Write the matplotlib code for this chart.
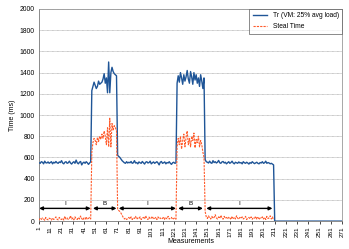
import numpy as np
import matplotlib
matplotlib.use('Agg')
import matplotlib.pyplot as plt

plt.rcParams['font.family'] = ['Liberation Sans', 'DejaVu Sans']

# Tr (ms) by phase
tr_idle1 = [550, 545, 560, 555, 540, 565, 550, 548, 558, 545,
            552, 560, 540, 555, 548, 562, 550, 545, 558, 552,
            570, 548, 540, 555, 560, 545, 550, 565, 548, 538,
            552, 560, 545, 575, 550, 540, 555, 562, 530, 548,
            556, 545, 560, 550, 535, 548, 560]
tr_burst1 = [1230, 1270, 1310, 1280, 1250, 1270, 1320, 1290, 1300, 1310,
             1340, 1390, 1300, 1350, 1210, 1500, 1210, 1400, 1450, 1410,
             1390, 1380, 1370]
tr_idle2 = [620, 610, 600, 585, 570, 560, 550, 545, 560, 548,
            555, 550, 562, 545, 550, 570, 548, 552, 540, 558,
            550, 545, 562, 550, 538, 555, 560, 548, 552, 565,
            540, 550, 558, 545, 552, 560, 548, 530, 555, 562,
            545, 550, 558, 540, 552, 548, 560, 545, 535, 550,
            555, 545, 548]
tr_burst2 = [1300, 1370, 1310, 1400, 1350, 1290, 1380, 1320, 1360, 1420,
             1340, 1300, 1410, 1360, 1290, 1400, 1330, 1380, 1300, 1350,
             1270, 1380, 1320, 1250, 1350]
tr_idle3 = [580, 560, 555, 548, 565, 550, 545, 570, 552, 560,
            548, 555, 572, 550, 545, 558, 562, 548, 555, 540,
            550, 560, 545, 552, 565, 548, 540, 555, 550, 545,
            558, 548, 552, 540, 560, 550, 545, 555, 548, 538,
            552, 545, 560, 550, 542, 548, 555, 545, 540, 552,
            548, 560, 545, 550, 565, 545, 552, 548, 540, 545,
            538, 530]
tr_off = [0] * 61

# Steal time (ms) by phase
st_idle1 = [10, 25, 15, 30, 20, 8, 35, 18, 12, 28,
            22, 10, 30, 15, 25, 40, 18, 12, 35, 20,
            15, 28, 10, 45, 20, 30, 15, 25, 50, 18,
            30, 12, 40, 22, 15, 35, 20, 48, 25, 10,
            30, 18, 40, 15, 25, 35, 20]
st_burst1 = [650, 740, 780, 760, 720, 790, 750, 800, 770, 820,
             780, 850, 800, 720, 880, 700, 970, 700, 920, 860,
             900, 880, 850]
st_idle2 = [110, 100, 90, 75, 55, 35, 20, 30, 15, 25,
            35, 20, 40, 15, 30, 25, 45, 18, 30, 22,
            40, 15, 28, 35, 20, 50, 25, 15, 38, 20,
            30, 45, 18, 25, 35, 15, 40, 22, 30, 18,
            25, 40, 15, 30, 22, 45, 20, 28, 35, 15,
            25, 30, 18]
st_burst2 = [700, 780, 720, 800, 680, 760, 820, 700, 790, 850,
             720, 780, 700, 800, 760, 830, 690, 770, 740, 800,
             700, 760, 720, 650, 600]
st_idle3 = [90, 40, 25, 50, 30, 20, 45, 25, 35, 60,
            30, 20, 40, 25, 55, 30, 18, 45, 25, 35,
            20, 40, 30, 15, 45, 25, 35, 20, 50, 28,
            18, 35, 25, 40, 20, 30, 45, 15, 28, 35,
            22, 40, 18, 30, 25, 45, 20, 35, 15, 30,
            25, 40, 20, 35, 15, 45, 25, 30, 50, 20,
            40, 10]

# phase annotations: start, end, label
phase_start = [1, 49, 72, 125, 150]
phase_end = [47, 70, 123, 147, 209]
phase_label = ['I', 'B', 'I', 'B', 'I']

tr = np.array(tr_idle1 + tr_burst1 + tr_idle2 + tr_burst2 + tr_idle3 + tr_off)
steal = np.array(st_idle1 + st_burst1 + st_idle2 + st_burst2 + st_idle3)
x_tr = np.arange(1, len(tr) + 1)
x_st = np.arange(1, len(steal) + 1)

fig = plt.figure(figsize=(3.49, 2.49), dpi=100)
ax = fig.add_axes([0.112, 0.112, 0.868, 0.852])

ax.plot(x_tr, tr, color='#1f5597', lw=1.0, label='Tr (VM: 25% avg load)', zorder=3)
ax.plot(x_st, steal, color='#ff5a2a', lw=0.8, ls=(0, (2, 1)), label='Steal Time', zorder=4)

for s, e, lab in zip(phase_start, phase_end, phase_label):
    ax.annotate('', xy=(s, 120), xytext=(e, 120),
                arrowprops=dict(arrowstyle='<|-|>', color='black', lw=1.0,
                                mutation_scale=5, shrinkA=0, shrinkB=0), zorder=5)
    ax.text((s + e) / 2, 165, lab, ha='center', va='center', fontsize=4.5)

ax.set_xlim(1, 271)
ax.set_ylim(0, 2000)
ax.set_xticks(np.arange(1, 272, 10))
ax.set_yticks(np.arange(0, 2001, 200))
ax.tick_params(axis='x', labelsize=4.6, rotation=90, length=2, width=0.5, pad=1.5)
ax.tick_params(axis='y', labelsize=4.9, length=0, pad=3)
ax.yaxis.grid(True, color='#b5b5b5', lw=0.6, ls=(0, (1, 0.5)))
ax.set_axisbelow(True)
for side in ['top', 'right']:
    ax.spines[side].set_color('#999999')
    ax.spines[side].set_linewidth(0.6)
ax.spines['left'].set_color('#777777')
ax.spines['bottom'].set_color('#777777')
ax.spines['left'].set_linewidth(0.6)
ax.spines['bottom'].set_linewidth(0.6)

ax.set_xlabel('Measurements', fontsize=5, labelpad=1)
ax.set_ylabel('Time (ms)', fontsize=5, labelpad=3)

leg = ax.legend(loc='upper right', fontsize=4.8, frameon=True, fancybox=False,
                handlelength=2.2, borderpad=0.5, labelspacing=0.6,
                borderaxespad=0.0)
leg.get_frame().set_edgecolor('#555555')
leg.get_frame().set_linewidth(0.6)

fig.savefig('out.png', dpi=100)
